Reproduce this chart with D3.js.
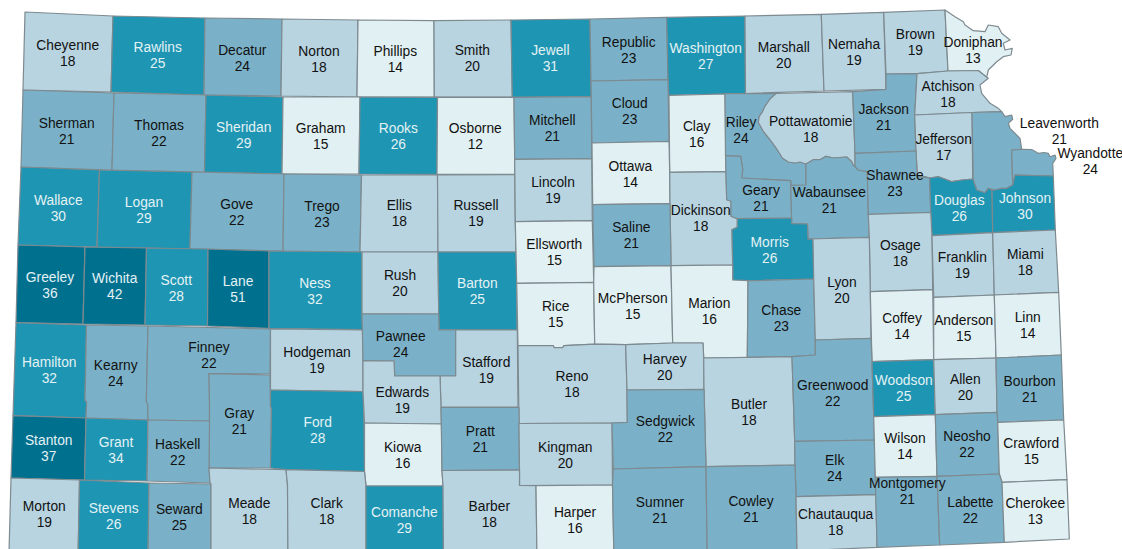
<!DOCTYPE html>
<html>
<head>
<meta charset="utf-8">
<script src="https://cdn.jsdelivr.net/npm/d3@7"></script>
<style>
body { margin: 0; background: #fff; }
text { font-family: "Liberation Sans", Arial, sans-serif; font-size: 13.8px; text-anchor: middle; }
</style>
</head>
<body>
<div id="map"></div>
<script>
var WIDTH = 1122;
var HEIGHT = 549;
var LINE_HEIGHT = 16;

var countyNames = [
	"Cheyenne", "Rawlins", "Decatur", "Norton", "Phillips", "Smith", "Jewell", "Republic", "Washington", "Marshall", "Nemaha", "Brown", "Doniphan",
	"Sherman", "Thomas", "Sheridan", "Graham", "Rooks", "Osborne", "Mitchell", "Cloud", "Clay", "Riley", "Pottawatomie", "Jackson", "Atchison", "Jefferson", "Leavenworth", "Wyandotte",
	"Wallace", "Logan", "Gove", "Trego", "Ellis", "Russell", "Lincoln", "Ottawa", "Dickinson", "Geary", "Wabaunsee", "Shawnee", "Douglas", "Johnson",
	"Greeley", "Wichita", "Scott", "Lane", "Ness", "Rush", "Barton", "Ellsworth", "Saline", "Morris", "Osage", "Franklin", "Miami",
	"Hamilton", "Kearny", "Finney", "Hodgeman", "Pawnee", "Stafford", "Rice", "McPherson", "Marion", "Chase", "Lyon", "Coffey", "Anderson", "Linn",
	"Gray", "Ford", "Edwards", "Reno", "Harvey", "Butler", "Greenwood", "Woodson", "Allen", "Bourbon",
	"Stanton", "Grant", "Haskell", "Kiowa", "Pratt", "Kingman", "Sedgwick", "Elk", "Wilson", "Neosho", "Crawford",
	"Morton", "Stevens", "Seward", "Meade", "Clark", "Comanche", "Barber", "Harper", "Sumner", "Cowley", "Chautauqua", "Montgomery", "Labette", "Cherokee"
];

//SEWARD PRINTS AS 25 BUT IS SHADED IN THE CLASS BELOW, SO IT MUST BE JUST UNDER
var countyValues = [
	18, 25, 24, 18, 14, 20, 31, 23, 27, 20, 19, 19, 13,
	21, 22, 29, 15, 26, 12, 21, 23, 16, 24, 18, 21, 18, 17, 21, 24,
	30, 29, 22, 23, 18, 19, 19, 14, 18, 21, 21, 23, 26, 30,
	36, 42, 28, 51, 32, 20, 25, 15, 21, 26, 18, 19, 18,
	32, 24, 22, 19, 24, 19, 15, 15, 16, 23, 20, 14, 15, 14,
	21, 28, 19, 18, 20, 18, 22, 25, 20, 21,
	37, 34, 22, 16, 21, 20, 22, 24, 14, 22, 15,
	19, 26, 24.6, 18, 18, 29, 18, 16, 21, 21, 18, 21, 22, 13
];

var classBreaks = [16.5, 20.5, 25, 35];
var classColors = ["#e1f0f2", "#b8d4e1", "#7bb1c8", "#1e95b2", "#00708f"];
var classText = ["#111", "#111", "#111", "#e4f2f5", "#e4f2f5"];

//COUNTY OUTLINES, IN MAP UNITS
var countyOutlines = [
	[[25,12],[113,16],[111,92],[23,90]],
	[[113,16],[205,18],[204,95],[111,92]],
	[[205,18],[282,19],[281,96],[204,95]],
	[[282,19],[358,20],[357,97],[281,96]],
	[[358,20],[434,20.7],[434.3,97],[357,97]],
	[[434,20.7],[511,20],[512.3,97],[434.3,97]],
	[[511,20],[590,19],[591,81],[591.3,96.7],[512.3,97.3]],
	[[590,19],[666.7,17.3],[668,79.7],[591,81]],
	[[666.7,17.3],[745,16],[745.5,93.5],[668.7,95.3],[668,79.7]],
	[[745,16],[821.3,14.3],[824,91],[745.5,93.5]],
	[[821.3,14.3],[883.7,12.3],[886,89.3],[824,91]],
	[[883.7,12.3],[945,10],[948,71],[917,73.7],[886,74]],
	[[945,10],[955,16.7],[963.3,21.7],[965,25],[973.3,30.7],[985,31.7],[988.3,25],[998.3,26.7],[1001.7,33.3],[1010,40],[1003.3,43.3],[1005,50],[1012.3,48.3],[1011,55],[1003.3,56.7],[996.7,61.7],[988.3,70],[986.7,77.3],[978.3,70.5],[948,71]],

	[[23,90],[114,93],[112,170],[21,167]],
	[[114,93],[206,95],[204.5,172],[112,170]],
	[[206,95],[283,97],[282,174],[204.5,172]],
	[[283,97],[360,97],[359,174],[282,174]],
	[[360,97],[437.5,97.3],[437,174.3],[359,174]],
	[[437.5,97.3],[514,97.3],[514.7,159.3],[514.7,174.3],[437,174.3]],
	[[514,97.3],[591.3,96.7],[591.7,158.7],[514.7,159.3]],
	[[591,81],[668,79.7],[669,141.3],[592,143]],
	[[669,95.3],[725,94],[726,171.7],[669.7,172.3]],
	[[725,93.7],[776,93.5],[770,99],[765,106.3],[762.7,111.3],[759.3,116.3],[758.3,122.3],[763.3,131.3],[770,139.7],[777.3,149.7],[782.3,158],[788.3,162],[795,163],[800,162],[806,164],[806,185],[790.7,185.3],[790.7,180.7],[741.7,178],[742.7,169.7],[740.7,156.3],[725.5,155.7]],
	[[776,93.5],[852.7,91.7],[855,153.3],[855,166.7],[853,165],[851.7,161.7],[846.7,157],[840,157.5],[833.3,158],[826,156.3],[820,159.7],[813.3,159.7],[806,164],[800,162],[795,163],[788.3,162],[782.3,158],[777.3,149.7],[770,139.7],[763.3,131.3],[758.3,122.3],[759.3,116.3],[762.7,111.3],[765,106.3],[770,99]],
	[[852.7,91.7],[886,89.3],[886,74],[917,73.7],[914.7,115],[916,151],[855,153.3]],
	[[917,73.7],[948,71],[978.3,70.5],[986.7,77.3],[988.3,78.3],[980,85],[981.7,93.3],[990,103.3],[998.3,108.3],[1001.7,111.7],[972,112.5],[914.7,115]],
	[[914.7,115],[972,112.5],[972.7,179],[962,180],[952,181.7],[938.7,176.7],[929.7,178],[925.3,176.7],[917.3,176.7],[916,151]],
	[[972,112.5],[1001.7,111.7],[1005,116.7],[1011.7,115],[1012.7,119.3],[1008.3,123.3],[1010,128.3],[1020,138.3],[1021.7,149.3],[1011.7,150],[1012.7,185],[1006.7,188.3],[1001.7,188.3],[995,190],[988.3,188.3],[985,192.7],[976.7,190],[973.3,180]],
	[[1011.7,150],[1021.7,149.3],[1031.7,149.5],[1038.3,153.3],[1044,152.5],[1048.3,153.3],[1050,156.7],[1055,155],[1056,158.3],[1052.7,163.3],[1053.3,176],[1015,175],[1012.7,185]],

	[[21,167],[99.5,170],[97,247],[18,245]],
	[[99.5,170],[192,172],[190,249],[97,247]],
	[[192,172],[284,174],[283,251],[190,249]],
	[[284,174],[361.5,175],[360,252],[283,251]],
	[[361.5,175],[437.5,175],[438,252],[360,252]],
	[[437.5,175],[514.7,174.5],[515.3,221.7],[516,252],[438,252]],
	[[514.7,159.3],[591.7,158.7],[592.3,220.7],[515.3,221.7]],
	[[592,143],[669,141.3],[669.7,172.3],[670,203.7],[592.7,204.7]],
	[[669.7,172.3],[726,171.7],[726.7,199.7],[731,201.3],[731,216.3],[737.3,218.7],[737.3,227.3],[732,229.7],[732.7,265],[671,265.7],[670,203.7]],
	[[725.5,155.7],[740.7,156.3],[742.7,169.7],[741.7,178],[790.7,180.7],[791.7,218],[737.3,218.7],[731,216.3],[731,201.3],[726.7,199.7]],
	[[790.7,185.3],[806,185],[806,164],[813.3,159.7],[820,159.7],[826,156.3],[833.3,158],[840,157.5],[846.7,157],[851.7,161.7],[853,165],[855,166.7],[858.3,170],[867.3,171.7],[868.3,214],[869.3,237.3],[808,239],[807.5,224],[791.7,223.7]],
	[[855,153.3],[916,151],[917.3,176.7],[929.7,178],[930.7,212.3],[868.3,214],[867.3,171.7],[858.3,170],[855,166.7]],
	[[929.7,178],[938.7,176.7],[952,181.7],[962,180],[972.7,179],[973.3,180],[976.7,190],[985,192.7],[988.3,188.3],[992,190],[992.7,232.7],[932,235.7],[930.7,212.3]],
	[[992,190],[995,190],[1001.7,188.3],[1006.7,188.3],[1012.7,185],[1015,175],[1053.3,176],[1055.3,230],[992.7,232.7]],

	[[18,245],[85,247],[83,324],[16,322.7]],
	[[85,247],[146.5,248],[145,325],[83,324]],
	[[146.5,248],[208,249],[207.5,326],[145,325]],
	[[208,249],[269,251],[269,328.3],[207.5,326]],
	[[269,251],[362,252],[362,313.5],[362.5,329.7],[269,328.3]],
	[[362,252],[438,252],[438.7,314],[362,313.5]],
	[[438,252],[516,252],[516.7,283.3],[517,330],[439,329.7],[438.7,314]],
	[[515.3,221.7],[592.3,220.7],[593.7,282.3],[516.7,283.3]],
	[[592.7,204.7],[670,203.7],[671,265.7],[594,266.7]],
	[[737.3,218.7],[791.7,218],[791.7,223.7],[807.5,224],[808,239],[813,239],[813.7,279],[748,280.7],[732.7,280],[732.7,265],[732,229.7],[737.3,227.3]],
	[[868.3,214.5],[930.7,212.3],[932,235.7],[932.7,289.7],[870.3,291.7],[869.3,237.3]],
	[[932,235.7],[992.7,232.7],[994.3,295],[933.7,297.3]],
	[[992.7,232.7],[1055.3,230],[1058.7,292.3],[994.3,295]],

	[[16,322.7],[86.5,325],[85,400],[86.7,402],[86,418],[13,415.7]],
	[[86.5,325],[148,326],[146.3,402],[147.7,404],[148,420],[86,418],[86.7,402],[85,400]],
	[[148,326],[270.5,329],[270,374],[209,373.7],[209.5,404],[209.5,421],[148,420],[147.7,404],[146.3,402]],
	[[270.5,329],[363,330],[363,391.7],[270.5,390]],
	[[362,314],[438.7,314],[439,330],[455.7,330],[455.7,376],[394.7,376],[394,361],[363,360.7]],
	[[455.7,330],[517.3,330],[518,407],[441,407],[440,376],[455.7,376]],
	[[516.7,283.3],[593.7,282.3],[594.7,344.2],[564,345.7],[562.7,347.7],[554.3,347.7],[553.3,345.7],[518,345.7]],
	[[594,266.7],[671,265.7],[672.7,343],[625.7,344.7],[594.7,344.2],[593.7,282.3]],
	[[671,265.7],[732.7,265],[732.7,280],[748,280.7],[747.3,357.3],[703.7,358],[703,343],[672.7,343]],
	[[748,280.7],[813.7,279],[815.3,340],[815.3,355],[792,356.7],[747.3,357.3]],
	[[808,239],[869.3,237.3],[870.3,291.7],[871,338.3],[815.3,340],[813.7,279],[813,239]],
	[[870.3,291.7],[932.7,289.7],[933.7,359.7],[872,361.7]],
	[[933.7,297.3],[994.3,295],[996,358],[933.7,359.7]],
	[[994.3,295],[1058.7,292.3],[1061.3,355],[996,358]],

	[[209,373.7],[270,375],[270.5,406],[271.5,409],[270.5,468],[209,468],[209.5,421],[209.5,404]],
	[[270.5,390],[363,391.7],[364,423],[364.5,471.5],[286,469.7],[270.5,468],[271.5,409],[270.5,406]],
	[[363,360.7],[394,361],[394.7,376],[440,376],[441,407],[441.5,424],[364.5,423],[363,391.7]],
	[[518,345.7],[553.3,345.7],[554.3,347.7],[562.7,347.7],[564,345.7],[594.7,344.2],[625.7,344.7],[627,390],[627.3,422.3],[612,423],[519,423.5]],
	[[625.7,344.7],[672.7,343],[703,343],[703.7,358],[704,389.3],[627,390]],
	[[703.7,358],[747.3,357.3],[792,356.7],[794.7,441.3],[795,465],[706,466.7],[704,389.3]],
	[[815.3,340],[871,338.3],[872,361.7],[873.7,416.7],[874.3,440],[794.7,441.3],[792,356.7],[815.3,355]],
	[[872,361.7],[933.7,359.7],[935.3,414.7],[873.7,416.7]],
	[[933.7,359.7],[996,358],[997,412.3],[935.3,414.7]],
	[[996,358],[1061.3,355],[1063.7,420],[997.7,422.3],[997,412.3]],

	[[13,415.7],[86,418],[84.5,480],[11,478]],
	[[86,418],[148,420],[147,481],[84.5,480]],
	[[148,420],[209.5,421],[209,468],[210,483],[147,481]],
	[[364.5,423],[441.5,424],[442,470.5],[443,486],[366,486],[364.5,471.5]],
	[[441,407.5],[519,407.5],[519.5,470],[442,470.5]],
	[[519,423.5],[612,423],[612.5,485],[519.5,485.5],[519.5,470]],
	[[627.3,422.3],[627,390],[704,389.3],[706,466.7],[613.3,469],[612,423]],
	[[794.7,441.3],[874.3,440],[875.3,477.3],[876,494.7],[796,496.7],[795,465]],
	[[873.7,416.7],[935.3,414.7],[937,476.3],[875.3,477.3]],
	[[935.3,414.7],[997,412.3],[997.7,422.3],[999.3,474],[937,476.3]],
	[[997.7,422.3],[1063.7,420],[1067,479.7],[1002,482.3],[999.3,474]],

	[[11,478],[79.5,480],[78,560],[8.8,560]],
	[[79.5,480],[149,483],[148,560],[78,560]],
	[[149,483],[211,484],[211,560],[148,560]],
	[[209,468],[286,469.7],[287.5,485],[288,560],[211,560],[211,484],[210,483]],
	[[286,469.7],[364.5,471.5],[366,486],[366,560],[288,560],[287.5,485]],
	[[366,486],[443,486],[443.5,560],[366,560]],
	[[442,470.5],[519.5,470],[519.5,485.5],[536,485.7],[537,560],[443.5,560],[443,486]],
	[[536,485.7],[612.5,485],[614,560],[537,560]],
	[[613.3,469],[706,466.7],[707.3,560],[614,560],[612.5,485]],
	[[706,466.7],[795,465],[796,496.7],[797,560],[707.3,560]],
	[[796,496.7],[876,494.7],[877,547.3],[797,551]],
	[[875.3,477.3],[937,476.3],[939.7,545],[877,547.3]],
	[[937,476.3],[999.3,474],[1002,482.3],[1004.3,542.3],[939.7,545]],
	[[1002,482.3],[1067,479.7],[1069.3,539],[1004.3,542.3]]
];

//WHERE EACH NAME SITS (CENTRE, BASELINE), SAME ORDER AS countyNames
var labelAnchors = [
	[67.7,49.5],[157.7,52.3],[242.3,55],[319,55.7],[395.3,56],[472.3,55.3],[550.3,55.3],[628.7,47],[705.7,53.3],[783.7,51.7],[854,49],[915.3,39],[973,46.7],
	[66.7,127.7],[159,130],[243.7,131.7],[320.7,133.3],[398.3,133.3],[475.3,133.3],[552.3,125],[629.7,108.3],[696.7,130.7],[741,127.3],[810.7,125.7],[883.7,114],[948,90.7],[943.7,144],[1059.3,128],[1090.3,158.3],
	[58.3,204.7],[144,206.7],[236.7,209],[322,210.7],[399.3,210],[476,210],[553,187.3],[630.3,170.7],[700.7,215.3],[761,195.3],[829.3,197.3],[895,180],[959.3,205],[1025,203.3],
	[50,281.7],[114.7,283],[176.3,284.7],[238,285.7],[315,287.7],[400,280.3],[477.3,288],[554.3,249],[631.3,232.3],[769.7,247.3],[900.3,249.7],[962.3,262.3],[1025.3,259.3],
	[49.3,367.3],[115.7,369.7],[209,352.3],[317,357],[400.7,341],[486.3,367.3],[555.7,311.3],[632.7,302.7],[709.3,308.3],[781.3,315],[842,286.7],[902,323.3],[963.7,324.7],[1027.7,322.3],
	[239.3,418.3],[317.7,427],[402.3,397],[572,380.7],[664.7,364],[749,408.5],[832.7,389.7],[903.7,385],[965.3,384],[1029.7,386],
	[48.7,445],[116,447],[177.7,448.7],[402.7,451.7],[480.3,435.7],[565.3,451.7],[665.3,426.3],[834.7,465],[905,443.3],[967,441.3],[1031.3,448],
	[44.3,511.3],[113.7,512.7],[179.3,514.3],[249.3,507.7],[326.7,508.3],[404.3,517.3],[489.3,510.7],[575,516.7],[660,507],[751,505.7],[835.7,519],[907.3,487.7],[970.3,507],[1035.3,508.3]
];

var counties = {
	type: "FeatureCollection",
	features: countyNames.map(function(name, i){
		return {
			type: "Feature",
			properties: {name: name, value: countyValues[i], label: labelAnchors[i]},
			//GEOJSON RINGS REPEAT THEIR FIRST POINT
			geometry: {type: "Polygon", coordinates: [countyOutlines[i].concat([countyOutlines[i][0]])]}
		};
	})
};

var projection = d3.geoIdentity();
var path = d3.geoPath(projection);
var shade = d3.scaleThreshold().domain(classBreaks).range(classColors);
var ink = d3.scaleThreshold().domain(classBreaks).range(classText);
var whole = d3.format(".0f");

var svg = d3.select("#map").append("svg")
	.attr("width", WIDTH)
	.attr("height", HEIGHT)
	.style("display", "block");

svg.append("g").selectAll("path")
	.data(counties.features)
	.enter().append("path")
	.attr("d", path)
	.attr("fill", function(d){ return shade(d.properties.value); })
	.attr("stroke", "#7d8a90")
	.attr("stroke-width", 1.2)
	.attr("stroke-linejoin", "round");

var labels = svg.append("g").selectAll("text")
	.data(counties.features)
	.enter().append("text")
	.attr("fill", function(d){ return ink(d.properties.value); })
	.attr("transform", function(d){ return "translate(" + projection(d.properties.label) + ")"; });

labels.append("tspan")
	.attr("x", 0)
	.text(function(d){ return d.properties.name; });

labels.append("tspan")
	.attr("x", 0)
	.attr("dy", LINE_HEIGHT)
	.text(function(d){ return whole(d.properties.value); });
</script>
</body>
</html>
